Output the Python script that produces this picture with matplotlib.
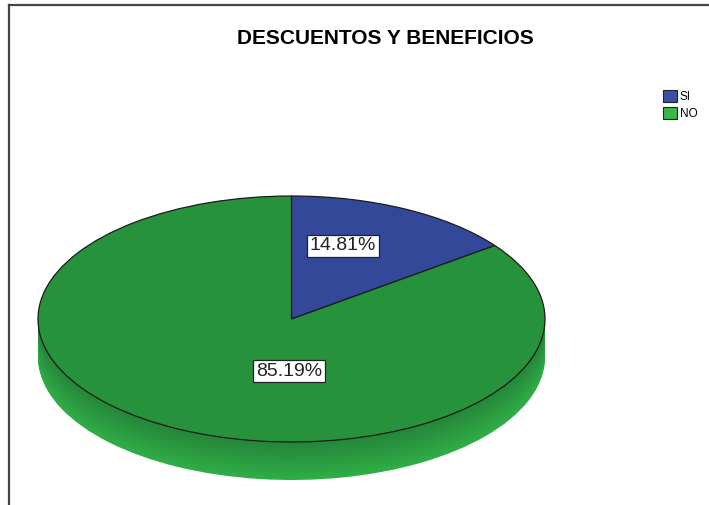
import numpy as np
import matplotlib
matplotlib.use("Agg")
import matplotlib.pyplot as plt
from matplotlib.patches import Patch
from matplotlib.lines import Line2D

plt.rcParams['font.family'] = ['Liberation Sans', 'DejaVu Sans']

# datos
categorias = ['SI', 'NO']
porcentajes = [14.81, 85.19]
colores_top = ['#34489a', '#27923c']
colores_leyenda = ['#3a50a6', '#3cb54a']
titulo = 'DESCUENTOS Y BENEFICIOS'

W, H = 709, 505
fig = plt.figure(figsize=(W / 100, H / 100), dpi=100)
fig.patch.set_facecolor('white')

# marco (solo arriba e izquierda)
fig.add_artist(Line2D([9 / W, 1], [1 - 5 / H, 1 - 5 / H], color='#444444', lw=1.6, transform=fig.transFigure))
fig.add_artist(Line2D([9 / W, 9 / W], [0, 1 - 5 / H], color='#444444', lw=1.6, transform=fig.transFigure))

fig.text(385 / W, 1 - 38 / H, titulo, ha='center', va='center', fontsize=15, fontweight='bold')

# geometria del pastel en pixeles
cx, cy, a, b, prof = 291.5, 319, 253.5, 123, 38
ax = fig.add_axes([(cx - a) / W, (H - (cy + b + prof)) / H, 2 * a / W, (2 * b + prof) / H])
d = prof / b

# lateral 3D: capas desde abajo hacia arriba con degradado
n = 40
verde_osc = np.array([0x24, 0x86, 0x39]) / 255
verde_cla = np.array([0x30, 0xae, 0x47]) / 255
azul_lat = np.array([0x2c, 0x3d, 0x85]) / 255
for i in range(n, 0, -1):
    t = i / n
    g = verde_osc + (verde_cla - verde_osc) * t
    ax.pie(porcentajes, colors=[azul_lat, g], startangle=90, counterclock=False,
           center=(0, -d * t), radius=1, wedgeprops=dict(linewidth=0))

# cara superior
ax.pie(porcentajes, colors=colores_top, startangle=90, counterclock=False,
       center=(0, 0), radius=1, wedgeprops=dict(edgecolor='#1c1c1c', linewidth=0.9))
ax.set_aspect('auto')
ax.set_xlim(-1, 1)
ax.set_ylim(-1 - d, 1)
ax.axis('off')

# etiquetas de porcentaje
pos_etiquetas = [(343, 246), (289, 371)]
for p, (px, py) in zip(porcentajes, pos_etiquetas):
    ax.text((px - cx) / a, (cy - py) / b, f'{p:.2f}%', ha='center', va='center', fontsize=14,
            color='#222222',
            bbox=dict(boxstyle='square,pad=0.15', facecolor='white', edgecolor='#222222', linewidth=0.9))

# leyenda
handles = [Patch(facecolor=c, edgecolor='#222222', linewidth=0.8) for c in colores_leyenda]
fig.legend(handles, categorias, loc='upper left', bbox_to_anchor=(663 / W, 1 - 90 / H),
           frameon=False, fontsize=8.5, handlelength=1.2, handleheight=1.2,
           handletextpad=0.2, labelspacing=0.3, borderpad=0, borderaxespad=0)

fig.savefig('out.png', dpi=100, facecolor='white')
